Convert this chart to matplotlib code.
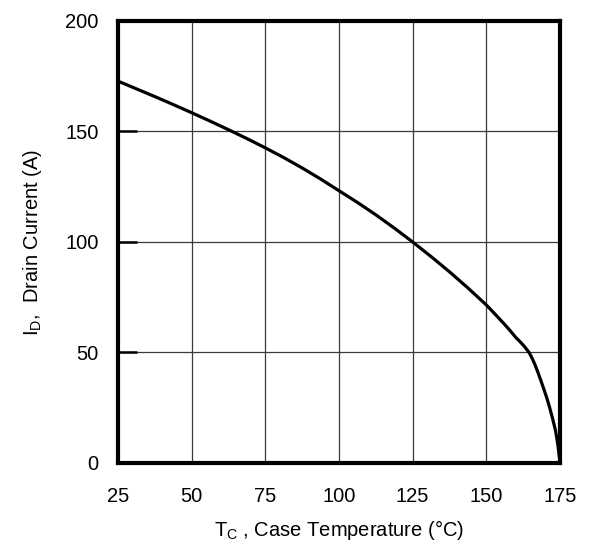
import matplotlib
matplotlib.use("Agg")
import matplotlib.pyplot as plt
import numpy as np

plt.rcParams['font.family'] = ['Liberation Sans', 'DejaVu Sans']
plt.rcParams['mathtext.fontset'] = 'custom'
plt.rcParams['mathtext.rm'] = 'Liberation Sans'

# case temperature (C) vs max drain current (A)
temp_c = [25, 31.25, 37.5, 43.75, 50, 56.25, 62.5, 68.75, 75, 81.25, 87.5,
          93.75, 100, 106.25, 112.5, 118.75, 125, 131.25, 137.5, 143.75, 150,
          153, 156, 158, 160, 161.5, 163, 164.5, 165.5, 166.5, 167.5, 168.5,
          169.5, 170.5, 171.5, 172.5, 173.5, 174.3, 175]
drain_a = [172.8, 169.3, 165.8, 162.2, 158.5, 154.7, 150.8, 146.8, 142.6, 138.2,
           133.5, 128.5, 123.2, 117.9, 112.3, 106.3, 100, 93.4, 86.5, 79.2, 71.5,
           67.3, 63, 60, 56.8, 54.8, 52.6, 50, 47.5, 44.5, 41, 37.3, 33.5, 29.5,
           25, 20, 14.5, 8, 0]

x_ticks = [25, 50, 75, 100, 125, 150, 175]
y_ticks = [0, 50, 100, 150, 200]

fig = plt.figure(figsize=(5.89, 5.44), dpi=100)
ax = fig.add_axes([0.2003, 0.1489, 0.7505, 0.8125])

ax.plot(temp_c, drain_a, color='black', lw=2.3, solid_joinstyle='round',
        solid_capstyle='round', zorder=3)

ax.set_xlim(25, 175)
ax.set_ylim(0, 200)
ax.set_xticks(x_ticks)
ax.set_yticks(y_ticks)
ax.grid(True, color='#3a3a3a', lw=0.9)

for s in ax.spines.values():
    s.set_linewidth(3)
    s.set_zorder(4)

ax.tick_params(axis='x', length=0, pad=17, labelsize=14.5)
ax.tick_params(axis='y', direction='in', length=14, width=1.8, pad=14, labelsize=14.5)

ax.set_xlabel(r'T$\mathregular{_C}$ , Case Temperature (°C)', fontsize=14.5, labelpad=9)
ax.set_ylabel(r'I$\mathregular{_D}$,  Drain Current (A)', fontsize=14.5, labelpad=15)

fig.savefig('out.png', dpi=100)
